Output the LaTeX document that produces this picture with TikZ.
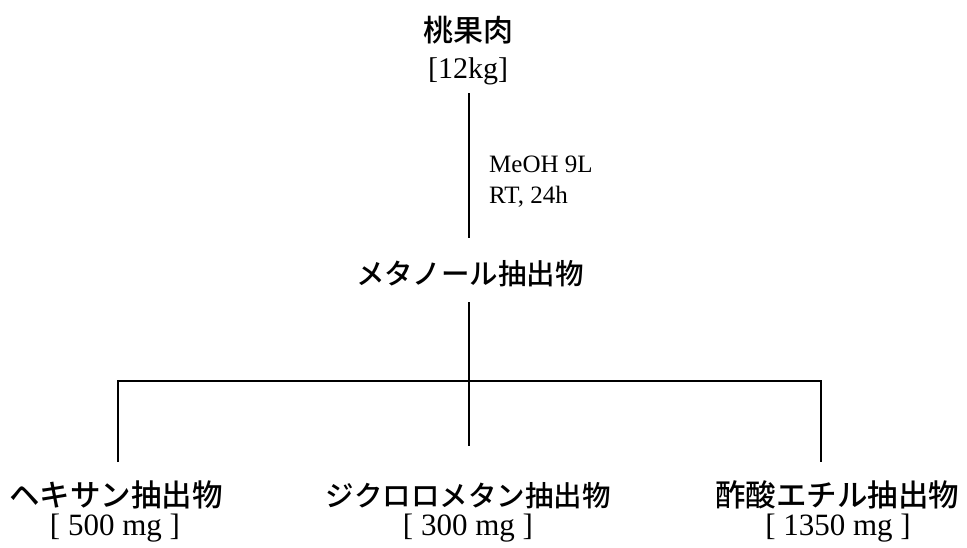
\documentclass[tikz,border=0pt]{standalone}
\usepackage{fontspec}
\setmainfont{Liberation Serif}
\newfontfamily\jp{Noto Sans CJK JP}[BoldFont={Noto Sans CJK JP Medium}]
\begin{document}
\begin{tikzpicture}[x=1pt,y=-1pt,
  jplabel/.style={inner sep=0pt,anchor=base,font=\jp\bfseries\fontsize{28.5}{30}\selectfont},
  jpwide/.style={inner sep=0pt,anchor=base,font=\jp\bfseries\fontsize{30.5}{32}\selectfont},
  jptop/.style={inner sep=0pt,anchor=base,font=\jp\bfseries\fontsize{30}{32}\selectfont},
  amount/.style={inner sep=0pt,anchor=base,font=\fontsize{30}{32}\selectfont},
  amountlow/.style={inner sep=0pt,anchor=base,font=\fontsize{31}{33}\selectfont},
  cond/.style={inner sep=0pt,anchor=base west,font=\fontsize{25}{27}\selectfont},
  conn/.style={line width=2pt,black}]
\useasboundingbox (0,0) rectangle (967,547);
% nodes
\node[jptop] (peach) at (468,41) {桃果肉};
\node[amount] (peachamt) at (468,78) {[12kg]};
\node[cond] (cond1) at (489,172) {MeOH 9L};
\node[cond] (cond2) at (489,203) {RT, 24h};
\node[jplabel] (meoh) at (470,284) {メタノール抽出物};
\node[jpwide] (hex) at (116,506) {ヘキサン抽出物};
\node[amountlow] (hexamt) at (115,535) {[ 500 mg ]};
\node[jplabel] (dcm) at (468,506) {ジクロロメタン抽出物};
\node[amountlow] (dcmamt) at (468,535) {[ 300 mg ]};
\node[jpwide] (etoac) at (837,506) {酢酸エチル抽出物};
\node[amountlow] (etoacamt) at (838,535) {[ 1350 mg ]};
% connector points
\coordinate (a1) at (469,93);
\coordinate (a2) at (469,238);
\coordinate (b1) at (469,302);
\coordinate (b2) at (469,381);
\coordinate (hl) at (118,381);
\coordinate (hr) at (821,381);
\coordinate (hexend) at (118,462);
\coordinate (dcmend) at (469,446);
\coordinate (etoacend) at (821,462);
% connectors
\draw[conn] (a1) -- (a2);
\draw[conn] (b1) -- (b2);
\draw[conn] (hexend) -- (hl) -- (hr) -- (etoacend);
\draw[conn] (b2) -- (dcmend);
\end{tikzpicture}
\end{document}
